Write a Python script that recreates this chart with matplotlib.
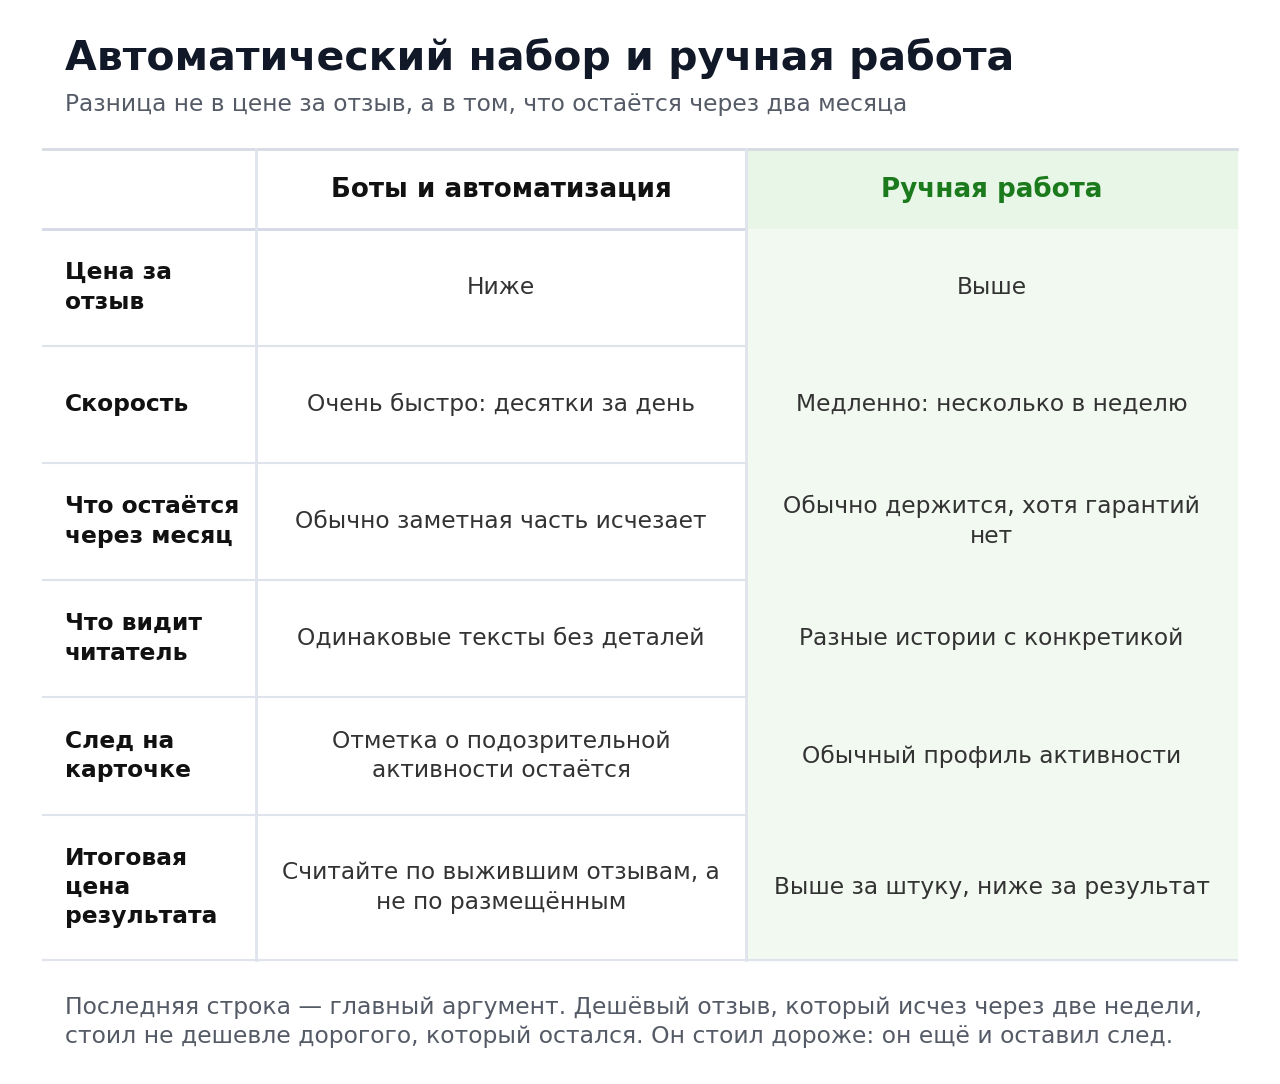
import matplotlib
matplotlib.use("Agg")
import matplotlib.pyplot as plt
from matplotlib.patches import Rectangle

plt.rcParams['font.family'] = ['DejaVu Sans']

title = "Автоматический набор и ручная работа"
subtitle = "Разница не в цене за отзыв, а в том, что остаётся через два месяца"
col_headers = ["Боты и автоматизация", "Ручная работа"]
row_labels = ["Цена за\nотзыв", "Скорость", "Что остаётся\nчерез месяц", "Что видит\nчитатель",
              "След на\nкарточке", "Итоговая\nцена\nрезультата"]
bots = ["Ниже", "Очень быстро: десятки за день", "Обычно заметная часть исчезает",
        "Одинаковые тексты без деталей", "Отметка о подозрительной\nактивности остаётся",
        "Считайте по выжившим отзывам, а\nне по размещённым"]
manual = ["Выше", "Медленно: несколько в неделю", "Обычно держится, хотя гарантий\nнет",
          "Разные истории с конкретикой", "Обычный профиль активности",
          "Выше за штуку, ниже за результат"]
footer = ("Последняя строка — главный аргумент. Дешёвый отзыв, который исчез через две недели,\n"
          "стоил не дешевле дорогого, который остался. Он стоил дороже: он ещё и оставил след.")

fig = plt.figure(figsize=(12.8, 10.84), dpi=100)
ax = fig.add_axes([0, 0, 1, 1])
ax.set_xlim(0, 1280); ax.set_ylim(1084, 0); ax.axis('off')

cols = [43, 256, 746, 1237]
ys = [149, 229, 346, 463, 580, 697, 815, 960]
line_c = "#dfe3ec"

ax.add_patch(Rectangle((cols[2], ys[0]), cols[3]-cols[2], ys[1]-ys[0], color="#e8f6e8", zorder=0))
ax.add_patch(Rectangle((cols[2], ys[1]), cols[3]-cols[2], ys[-1]-ys[1], color="#f2f9f1", zorder=0))

ax.text(65, 58, title, fontsize=29.5, fontweight='bold', color="#111827", va='center')
ax.text(65, 105, subtitle, fontsize=16.8, color="#555b66", va='center')

ax.plot([cols[0], cols[3]], [ys[0], ys[0]], color="#d6dae2", lw=2)
ax.plot([cols[0], cols[2]], [ys[1], ys[1]], color="#d3d8e6", lw=2)
for y in ys[2:-1]:
    ax.plot([cols[0], cols[2]], [y, y], color=line_c, lw=1.5)
ax.plot([cols[0], cols[3]], [ys[-1], ys[-1]], color=line_c, lw=1.5)
for x in cols[1:3]:
    ax.plot([x, x], [ys[0], ys[-1]], color=line_c, lw=2)

hy = (ys[0]+ys[1])/2
ax.text((cols[1]+cols[2])/2, hy, col_headers[0], fontsize=18.8, fontweight='bold', color="#111", ha='center', va='center')
ax.text((cols[2]+cols[3])/2, hy, col_headers[1], fontsize=18.8, fontweight='bold', color="#1b7a1b", ha='center', va='center')

for i in range(len(row_labels)):
    cy = (ys[i+1]+ys[i+2])/2
    ax.text(65, cy, row_labels[i], fontsize=16.8, fontweight='bold', color="#111", va='center', linespacing=1.35)
    ax.text((cols[1]+cols[2])/2, cy, bots[i], fontsize=16.8, color="#333", ha='center', va='center', linespacing=1.35)
    ax.text((cols[2]+cols[3])/2, cy, manual[i], fontsize=16.8, color="#333", ha='center', va='center', linespacing=1.35)

ax.text(65, 1022, footer, fontsize=16.9, color="#555b66", va='center', linespacing=1.35)

fig.savefig("out.png", dpi=100)
